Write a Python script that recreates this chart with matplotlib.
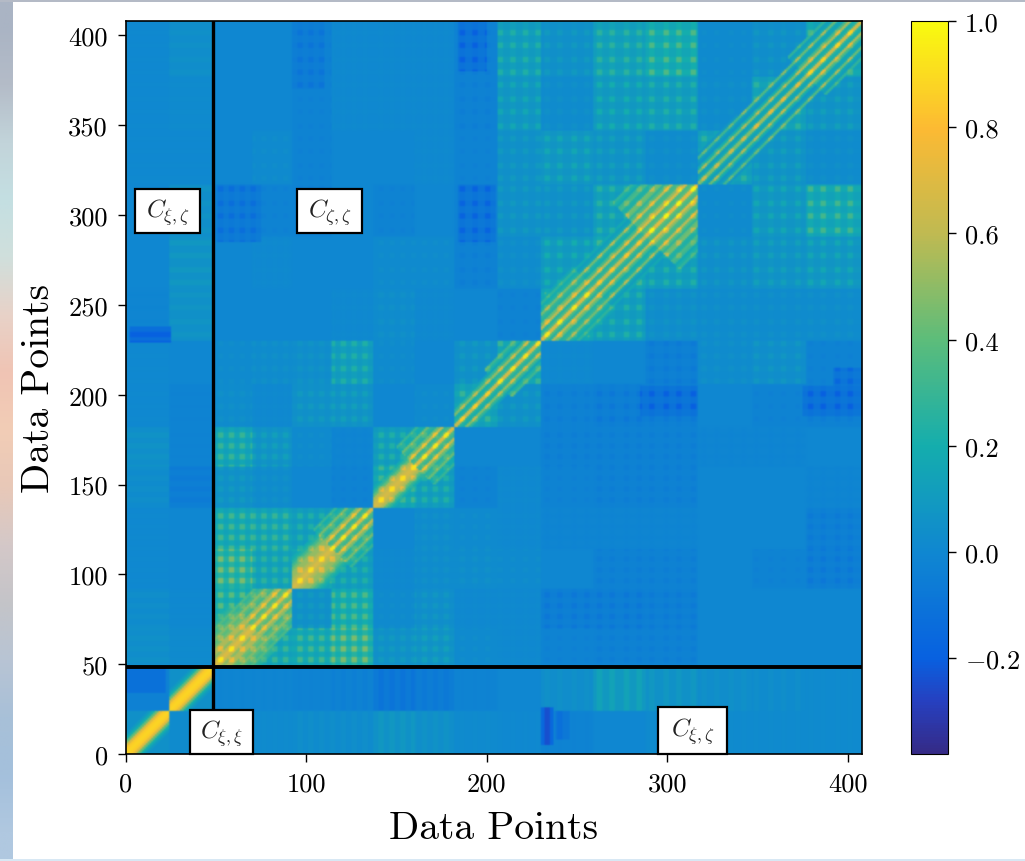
import numpy as np
import matplotlib
matplotlib.use('Agg')
import matplotlib.pyplot as plt
from matplotlib.colors import LinearSegmentedColormap
from matplotlib.patches import Rectangle

plt.rcParams['font.family'] = ['cmr10', 'DejaVu Serif']
plt.rcParams['mathtext.fontset'] = 'cm'
plt.rcParams['axes.unicode_minus'] = False

# grid lines of the coarse value table, in data points
segment_edges = [0, 24, 48, 70, 92, 114, 137, 160, 182, 206, 230, 259, 288, 317, 347, 377, 408]
block_edges = [0, 24, 48, 92, 137, 182, 230, 317, 408]

# values, in percent, first row is the bottom one
background_pct = [
    [5, 2, 1, 2, 3, 3, 7, 5, 2, 1, -2, 0, 2, 2, 2, 2],
    [-3, 5, -1, -1, -2, -3, -8, -6, -2, 0, 4, 12, 7, 4, 3, 2],
    [4, 2, 20, 18, 20, 28, 6, 8, 2, 1, -2, -3, -3, 0, 0, 0],
    [3, 1, 24, 22, 6, 22, 2, 5, 1, 1, -5, -5, -4, 0, 0, 0],
    [1, 0, 28, 16, 20, 14, 1, 3, 3, 2, 0, -3, -3, 0, -2, -5],
    [1, 0, 20, 18, 14, 16, 0, 3, 2, 1, -1, -1, -1, 0, 0, -4],
    [3, -5, 6, 3, 0, -2, 20, 14, -2, 1, -2, -3, -3, 0, 0, -1],
    [5, -2, 18, 8, 2, -1, 14, 22, 0, 0, -3, -3, -3, -1, -1, 0],
    [1, -2, 3, 1, 6, 8, 0, 2, 18, 6, -3, -5, -4, 0, -2, -3],
    [1, 0, 2, 3, 4, 14, 2, 0, 6, 18, 1, 0, -4, 3, 5, -2],
    [-1, 6, 0, 0, 0, 1, 3, 1, 0, -2, 20, 14, 4, 3, 3, 3],
    [0, 7, 0, 1, 0, 0, 2, 2, -3, 3, 12, 20, 14, 5, 8, 10],
    [0, 5, -3, -2, -3, 0, -2, 0, -3, 6, 6, 15, 28, 2, 10, 20],
    [1, 1, 0, 2, -2, 0, 0, 1, -2, 6, 10, 8, 3, 16, 8, 3],
    [1, 2, 0, 0, -2, 1, 1, 1, -3, 10, 3, 12, 14, 3, 16, 8],
    [1, 4, 0, 0, -3, 1, 1, 1, -3, 14, 6, 16, 22, 2, 5, 20],
]

# darker spots in the table: left, right, bottom, top, value
spot_x0 = [2, 230, 238, 184, 50, 184, 92, 285, 375, 392, 0]
spot_x1 = [25, 237, 246, 205, 75, 200, 110, 317, 408, 408, 22]
spot_y0 = [229, 5, 8, 285, 285, 380, 370, 188, 188, 205, 34]
spot_y1 = [238, 26, 24, 317, 317, 408, 408, 205, 205, 215, 48]
spot_val = [-0.16, -0.20, -0.10, -0.11, -0.08, -0.12, -0.06, -0.12, -0.12, -0.10, -0.12]

# correlation against distance from the diagonal (one entry per 2 points), per segment
diagonal_profiles = [
    [.88, .85, .70, .42, .20, .10],
    [.88, .85, .70, .42, .20, .10],
    [.88, .78, .62, .72, .72, .55, .50, .60, .48, .40, .48, .35, .30],
    [.88, .55, .50, .78, .65, .42, .48, .62, .42, .35, .45],
    [.86, .78, .72, .66, .66, .55, .42, .32, .25],
    [.88, .45, .40, .78, .60, .32, .36, .58, .30, .25, .38],
    [.86, .80, .72, .52, .36, .25],
    [.88, .45, .38, .78, .55, .32, .36, .55, .25, .25, .38],
    [.80, .32, .26, .60, .36, .20],
    [.86, .38, .32, .66, .38, .20, .30, .40],
    [.88, .44, .32, .76, .55, .32, .36, .58, .30, .25, .35, .20],
    [.78, .38, .32, .74, .44, .26, .30, .58, .20, .15, .22],
    [.92, .50, .44, .88, .66, .44, .42, .76, .48, .36, .54, .58, .30, .30, .45, .40, .22, .28, .36],
    [.60, .22, .15, .55, .26, .10, .15, .42, .10],
    [.68, .22, .20, .60, .26, .10, .15, .48],
    [.82, .32, .26, .72, .44, .20, .20, .55, .20, .15, .36],
]

# where the fine streaks of the matrix sit, read from the top and right edges
streak_centers = [52, 58, 64, 70, 76, 82, 88,
                  96, 102, 108, 114, 120, 126, 132,
                  141, 147, 153, 159, 165, 171, 177,
                  186, 193, 200, 207, 214, 221, 228,
                  233, 240, 248, 255, 262, 269, 277, 284, 291, 299, 306, 314,
                  320, 327, 335, 342, 349, 357, 364, 372, 379, 386, 394, 401]

x_ticks = [0, 100, 200, 300, 400]
y_ticks = [0, 50, 100, 150, 200, 250, 300, 350, 400]
cbar_ticks = [-0.2, 0.0, 0.2, 0.4, 0.6, 0.8, 1.0]
cbar_labels = ['$-0.2$', '0.0', '0.2', '0.4', '0.6', '0.8', '1.0']
block_labels = [r'$C_{\xi,\zeta}$', r'$C_{\zeta,\zeta}$', r'$C_{\xi,\xi}$', r'$C_{\xi,\zeta}$']
label_x = [23, 113, 53, 314]
label_y = [302, 302, 12, 13]
label_w = [36, 36, 35, 38]
label_h = [24.5, 24.5, 24.5, 26]
split_at = 48.5
strip_colors = ['#aab4c4', '#b4bcc8', '#c2d4da', '#c4dfe2', '#d0dfdc', '#e8d2c8',
                '#f0c4b4', '#f2cdb6', '#e8c8b8', '#d4c8c8', '#c4c4c8', '#b8c4d4',
                '#a8c0d8', '#a4c0dc', '#b0c8e0']

parula = LinearSegmentedColormap.from_list('parula', [
    (0.00, (0.208, 0.166, 0.529)),
    (0.07, (0.150, 0.250, 0.750)),
    (0.13, (0.030, 0.380, 0.880)),
    (0.275, (0.060, 0.530, 0.820)),
    (0.42, (0.080, 0.680, 0.680)),
    (0.565, (0.360, 0.740, 0.480)),
    (0.71, (0.750, 0.730, 0.320)),
    (0.855, (0.990, 0.730, 0.200)),
    (1.00, (0.976, 0.984, 0.055)),
])

# coarse table -> full matrix
sizes = np.diff(segment_edges)
field = np.repeat(np.repeat(np.array(background_pct) / 100.0, sizes, axis=0), sizes, axis=1)
for x0, x1, y0, y1, value in zip(spot_x0, spot_x1, spot_y0, spot_y1, spot_val):
    field[y0:y1, x0:x1] = value

# streak mask per row/column, the first two blocks have no streaks
streak = np.zeros(field.shape[0])
streak[:48] = 0.4
for center in streak_centers:
    streak[center - 1:center + 2] = 1.0
streak_c = streak[None, :]
streak_r = streak[:, None]
field = field * (0.7 + 0.2 * (streak_r + streak_c) + 0.55 * streak_r * streak_c)

# ridges along the diagonal, only inside one block
rows, cols = np.indices(field.shape)
same_block = (np.searchsorted(block_edges, rows, side='right') ==
              np.searchsorted(block_edges, cols, side='right'))
distance = np.abs(rows - cols)
middle = (rows + cols) / 2.0
beads = 0.78 + 0.28 * streak_r * streak_c
beads[:48, :48] = 1.0
for seg, profile in enumerate(diagonal_profiles):
    in_seg = same_block & (middle >= segment_edges[seg]) & (middle < segment_edges[seg + 1])
    for n, value in enumerate(profile):
        mask = in_seg & (distance // 2 == n)
        field[mask] = value * beads[mask]

fig = plt.figure(figsize=(10.25, 8.62), dpi=100)

# piece of the slide behind the figure, visible at the edges
strip = fig.add_axes([0, 0, 13 / 1025, 1])
strip.imshow(matplotlib.colors.to_rgba_array(strip_colors)[:, None, :], aspect='auto', interpolation='bilinear')
strip.axis('off')
fig.patches.append(Rectangle((0, 1 - 3 / 862), 1, 3 / 862, transform=fig.transFigure, facecolor='#b4bac6', edgecolor='none'))
fig.patches.append(Rectangle((0, 0), 1, 2 / 862, transform=fig.transFigure, facecolor='#d8e8f4', edgecolor='none'))

ax = fig.add_axes([126 / 1025, 107 / 862, 736 / 1025, 733 / 862])
im = ax.imshow(field, origin='lower', cmap=parula, vmin=-0.38, vmax=1.0,
               extent=(0, 408, 0, 408), aspect='auto', interpolation='gaussian')
ax.axvline(split_at, color='black', lw=2.4)
ax.axhline(split_at, color='black', lw=2.8)

ax.set_xticks(x_ticks)
ax.set_yticks(y_ticks)
ax.tick_params(labelsize=19, length=6, width=1, pad=7)
ax.set_xlabel('Data Points', fontsize=28.5, labelpad=10)
ax.set_ylabel('Data Points', fontsize=28.5, labelpad=8)
for spine in ax.spines.values():
    spine.set_linewidth(1.2)

for text, x, y, w, h in zip(block_labels, label_x, label_y, label_w, label_h):
    ax.add_patch(Rectangle((x - w / 2, y - h / 2), w, h, facecolor='white', edgecolor='black',
                           linewidth=1.6, zorder=4, clip_on=False))
    ax.text(x, y, text, fontsize=18, ha='center', va='center', zorder=5, color='#222222')

cax = fig.add_axes([911 / 1025, 107 / 862, 37 / 1025, 733 / 862])
cbar = fig.colorbar(im, cax=cax)
cbar.set_ticks(cbar_ticks)
cbar.set_ticklabels(cbar_labels)
cbar.ax.tick_params(labelsize=19, length=6, width=1, pad=6)

fig.savefig('out.png', dpi=100)
